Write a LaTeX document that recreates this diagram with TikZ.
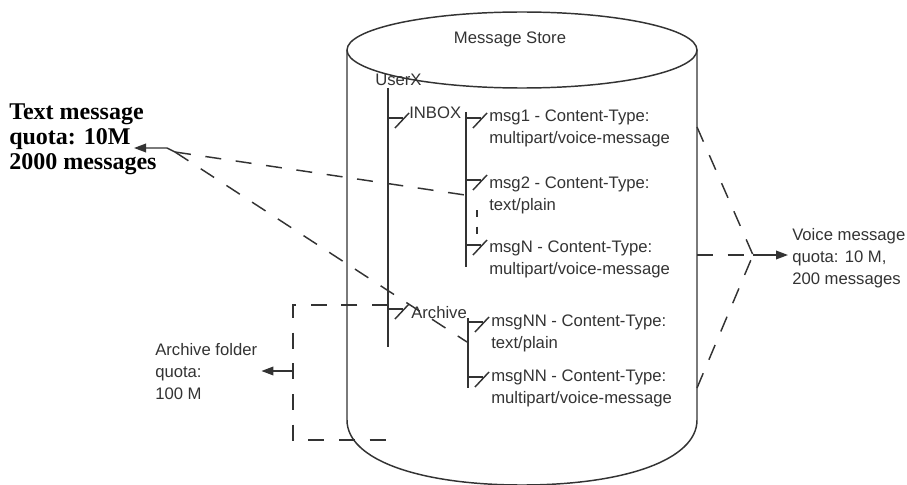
\documentclass[tikz,border=0pt]{standalone}
\usepackage{fontspec}
\setmainfont{Liberation Sans}
\newfontfamily\quotaserif{Liberation Serif}
\usetikzlibrary{arrows.meta}
\begin{document}
\begin{tikzpicture}[x=0.75pt,y=-0.75pt,
  ln/.style={draw=black!80, line width=1.1pt},
  dsh/.style={ln, dash pattern=on 12pt off 11pt},
  lbl/.style={inner sep=0pt, font=\fontsize{12.5}{16.5}\selectfont, text=black!80, align=left, anchor=west},
  tip/.style={-{Triangle[length=9pt,width=6.5pt]}},
  br/.pic={\draw[ln] (0,0) -- (15,0); \draw[ln] (7,10) -- (21,-5);}
]
\useasboundingbox (0,0) rectangle (907,485);
% cylinder
\draw[ln] (347,50) -- (347,420) .. controls (347,460) and (420,485) .. (522,485)
   .. controls (624,485) and (697,460) .. (697,420) -- (697,50);
\draw[ln] (522,50) ellipse [x radius=131.25pt, y radius=28.5pt];
\node[lbl, anchor=center] (store) at (510,39) {Message Store};

% tree labels
\node[lbl] (userx) at (375,80) {UserX};
\node[lbl] (inbox) at (409,113) {INBOX};
\node[lbl] (archive) at (411,313) {Archive};

% tree lines
\coordinate (u1) at (388,88);  \coordinate (u2) at (388,347);
\coordinate (i1) at (466,112); \coordinate (i2) at (466,267);
\coordinate (a1) at (468,318); \coordinate (a2) at (468,388);
\draw[ln] (u1) -- (u2);
\draw[ln] (i1) -- (i2);
\draw[ln] (a1) -- (a2);
\pic at (388,118) {br};
\pic at (388,309) {br};
\pic at (466,118) {br};
\pic at (466,180) {br};
\pic at (466,245) {br};
\pic at (468,322) {br};
\pic at (468,377) {br};
\coordinate (d1) at (477,210); \coordinate (d2) at (477,234);
\draw[ln, dash pattern=on 5.5pt off 7pt] (d1) -- (d2);

% messages
\node[lbl] (msg1) at (489,128) {msg1 - Content-Type:\\multipart/voice-message};
\node[lbl] (msg2) at (489,195) {msg2 - Content-Type:\\text/plain};
\node[lbl] (msgN) at (489,259) {msgN - Content-Type:\\multipart/voice-message};
\node[lbl] (msgNNa) at (491,333) {msgNN - Content-Type:\\text/plain};
\node[lbl] (msgNNb) at (491,388) {msgNN - Content-Type:\\multipart/voice-message};

% text message quota
\node[inner sep=0pt, anchor=west, align=left, font=\quotaserif\bfseries\fontsize{18}{18.75}\selectfont] (textq) at (9,139.5) {Text message\\quota: 10M\\2000 messages};
\coordinate (tj) at (175,152);
\coordinate (tbend) at (167,148);
\coordinate (ttip) at (134,148);
\coordinate (m2in) at (465,195);
\coordinate (nn1in) at (467,342);
\draw[ln, tip] (tj) -- (tbend) -- (ttip);
\draw[dsh] (tj) -- (m2in);
\draw[dsh] (tj) -- (nn1in);

% voice message quota
\node[lbl] (voiceq) at (792,258) {Voice message\\quota: 10 M,\\200 messages};
\coordinate (vj) at (753,255);
\coordinate (v1) at (697,127);
\coordinate (v2) at (697,255);
\coordinate (v3) at (697,388);
\draw[dsh] (v1) -- (vj);
\draw[dsh] (v2) -- (vj);
\draw[dsh] (v3) -- (vj);
\draw[ln, tip, shorten >=3pt] (vj) -- (voiceq.west |- vj);

% archive folder quota
\node[lbl] (archq) at (155,372) {Archive folder\\quota:\\100 M};
\coordinate (r1) at (388,305);
\coordinate (r2) at (293,305);
\coordinate (r3) at (293,440);
\coordinate (r4) at (387,440);
\coordinate (ra) at (293,371);
\draw[dsh] (r1) -- (r2) -- (r3) -- (r4);
\draw[ln, tip, shorten >=3pt] (ra) -- (archq.east |- ra);
\end{tikzpicture}
\end{document}
